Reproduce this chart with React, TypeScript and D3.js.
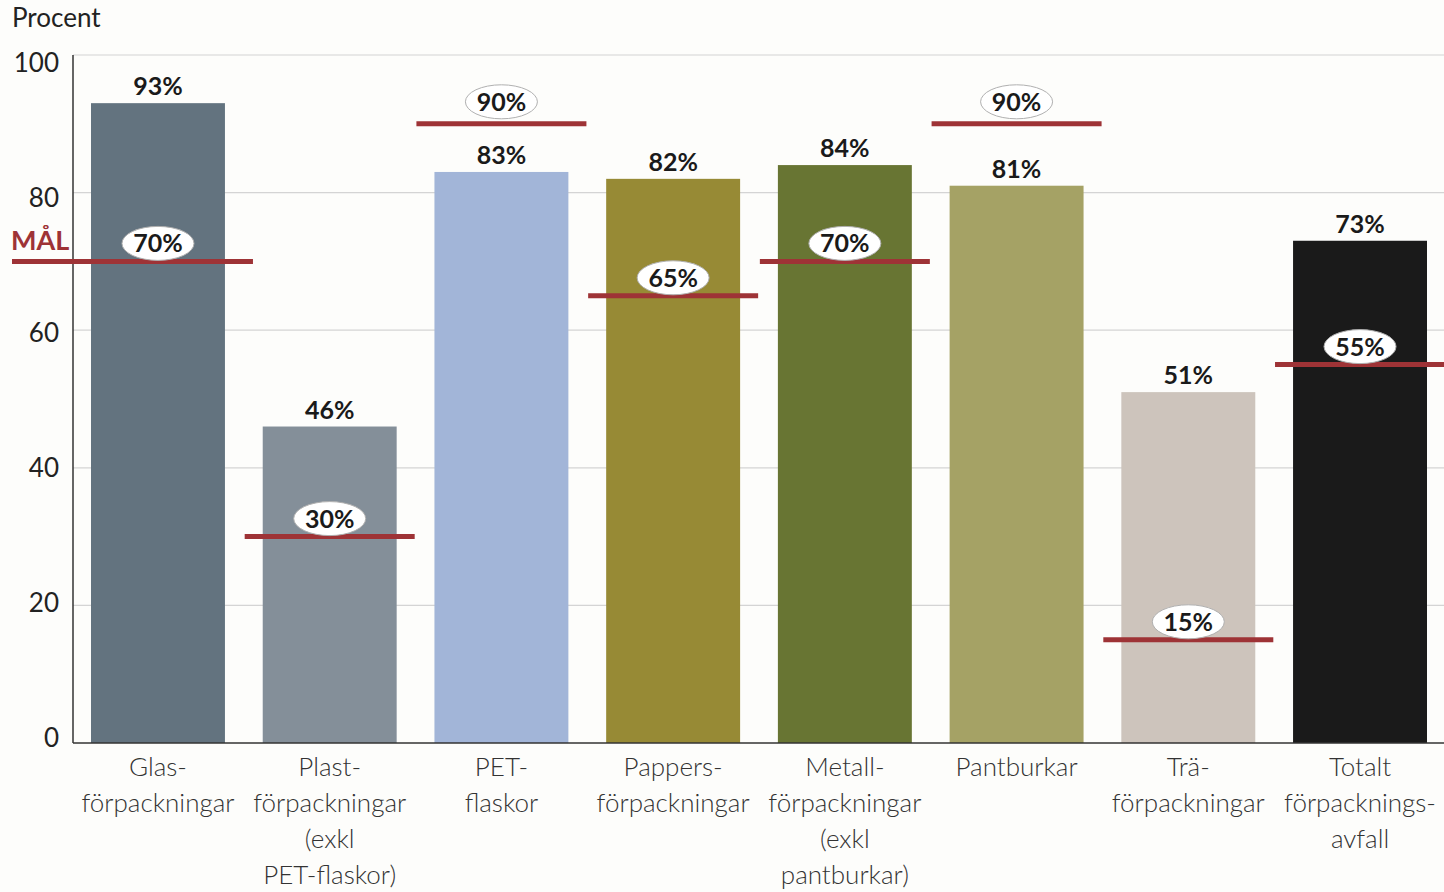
import React from "react";
import * as d3 from "d3";

const categories = ["Glas", "Plast", "PET", "Papper", "Metall", "Pantburkar", "Tra", "Totalt"];
const labelLines: string[][] = [
  ["Glas-", "förpackningar"],
  ["Plast-", "förpackningar", "(exkl", "PET-flaskor)"],
  ["PET-", "flaskor"],
  ["Pappers-", "förpackningar"],
  ["Metall-", "förpackningar", "(exkl", "pantburkar)"],
  ["Pantburkar"],
  ["Trä-", "förpackningar"],
  ["Totalt", "förpacknings-", "avfall"],
];
const values = [93, 46, 83, 82, 84, 81, 51, 73];
const targets = [70, 30, 90, 65, 70, 90, 15, 55];
const colors = ["#63737f", "#848f99", "#a2b5d8", "#978a35", "#687533", "#a5a265", "#cdc4bc", "#1a1a1a"];
const yTicks = [0, 20, 40, 60, 80, 100];

const W = 1444;
const H = 892;
const axisX = 73;
const FONT = "Lato, 'Open Sans', sans-serif";
const RED = "#9e3336";

export default function App() {
  const y = d3.scaleLinear().domain([0, 100]).range([743, 55]);
  const yLab = d3.scaleLinear().domain([0, 100]).range([738, 63]);
  const x = d3.scaleBand<string>().domain(categories).range([91, 1427]).paddingInner(0.22).paddingOuter(0);
  const bw = x.bandwidth();

  return (
    <svg width={W} height={H} style={{ position: "absolute", left: 0, top: 0, background: "#fdfdfb" }}>
      <rect x={0} y={0} width={W} height={H} fill="#fdfdfb" />
      <text x={12} y={27} fontFamily={FONT} fontSize={26} fill="#222">Procent</text>
      {yTicks.map((t) => (
        <g key={t}>
          {t > 0 && <line x1={axisX} x2={W} y1={y(t)} y2={y(t)} stroke="#d4d4d4" strokeWidth={1.2} />}
          <text x={59} y={yLab(t) + 9} textAnchor="end" fontFamily={FONT} fontSize={26} fill="#222">{t}</text>
        </g>
      ))}
      <text x={11} y={250} fontFamily={FONT} fontSize={27} fontWeight={700} fill={RED}>MÅL</text>
      {categories.map((c, i) => (
        <rect key={c} x={x(c)} y={y(values[i])} width={bw} height={y(0) - y(values[i])} fill={colors[i]} />
      ))}
      <line x1={axisX} x2={axisX} y1={y(100)} y2={y(0)} stroke="#333" strokeWidth={1.5} />
      <line x1={axisX} x2={W} y1={y(0)} y2={y(0)} stroke="#333" strokeWidth={1.5} />
      {categories.map((c, i) => {
        const cx = (x(c) as number) + bw / 2;
        return (
          <text key={c} x={cx} y={y(values[i]) - 8} textAnchor="middle" fontFamily={FONT} fontSize={25} fontWeight={700} fill="#1a1a1a">
            {values[i]}%
          </text>
        );
      })}
      {categories.map((c, i) => {
        const cx = (x(c) as number) + bw / 2;
        const x1 = i === 0 ? 12 : cx - 85;
        const x2 = i === 0 ? cx + 95 : cx + 85;
        const ly = y(targets[i]);
        const ey = ly - (targets[i] === 90 ? 22 : 18);
        return (
          <g key={c}>
            <line x1={x1} x2={x2} y1={ly} y2={ly} stroke={RED} strokeWidth={5} />
            <ellipse cx={cx} cy={ey} rx={36} ry={17} fill="#fff" stroke="#b0b0b0" strokeWidth={1} />
            <text x={cx} y={ey + 9} textAnchor="middle" fontFamily={FONT} fontSize={25} fontWeight={700} fill="#1a1a1a">
              {targets[i]}%
            </text>
          </g>
        );
      })}
      {categories.map((c, i) => {
        const cx = (x(c) as number) + bw / 2;
        return (
          <text key={c} textAnchor="middle" fontFamily={FONT} fontSize={26} fontWeight={300} fill="#333">
            {labelLines[i].map((l, j) => (
              <tspan key={j} x={cx} y={776 + j * 36}>{l}</tspan>
            ))}
          </text>
        );
      })}
    </svg>
  );
}
